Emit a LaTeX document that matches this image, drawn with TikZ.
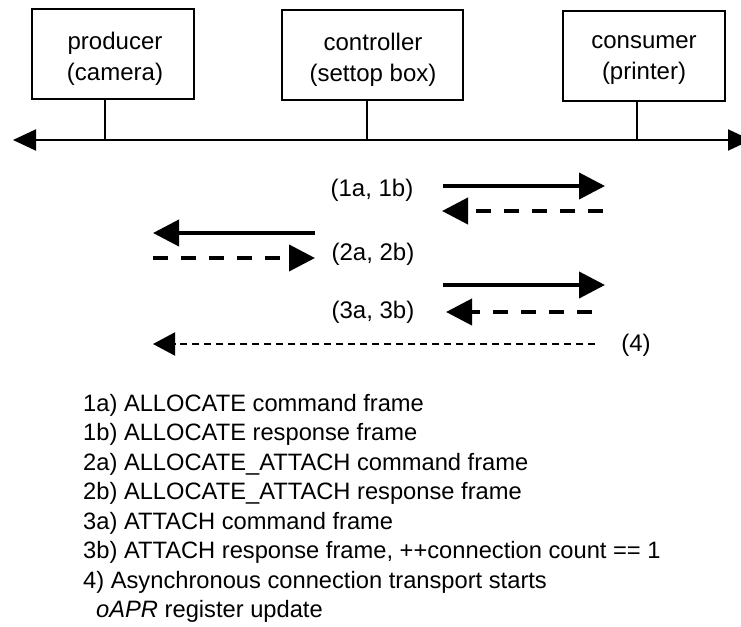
\documentclass[tikz,border=0pt]{standalone}
\usepackage{fontspec}
\setmainfont{Liberation Sans}
\usetikzlibrary{arrows.meta}
\begin{document}
\begin{tikzpicture}[x=1pt,y=-1pt,
  box/.style={draw, line width=1.5pt, minimum width=#1, minimum height=90pt, inner sep=0pt},
  devtext/.style={align=center, inner sep=0pt, font=\fontsize{24}{31}\selectfont},
  tick/.style={line width=1.8pt},
  bus/.style={line width=2pt, {Triangle[length=23pt,width=21pt]}-{Triangle[length=23pt,width=21pt]}},
  cmd/.style={line width=4pt, -{Triangle[length=26pt,width=26pt]}},
  rsp/.style={cmd, dash pattern=on 15pt off 13pt},
  async/.style={line width=2pt, dash pattern=on 7pt off 5pt, -{Triangle[length=22pt,width=23pt]}},
  lbl/.style={font=\fontsize{24}{28}\selectfont, inner sep=0pt},
  legend/.style={anchor=base west, inner sep=0pt, font=\fontsize{23.7}{28}\selectfont}]

\useasboundingbox (0,0) rectangle (741,626);

% devices on the bus
\node[box=162pt] (prod) at (113,54) {};
\node[box=181pt] (ctrl) at (372.5,55) {};
\node[box=162pt] (cons) at (644,56) {};
\node[devtext] (prodT) at (115,59) {producer\\(camera)};
\node[devtext] (ctrlT) at (373,60) {controller\\(settop box)};
\node[devtext] (consT) at (644,60) {consumer\\(printer)};

% the bus and its taps
\coordinate (busL) at (13,140);
\coordinate (busR) at (751,140);
\coordinate (tapP) at (105,140);
\coordinate (tapC) at (367,140);
\coordinate (tapS) at (637,140);
\draw[bus] (busL) -- (busR);
\draw[tick] (prod.south -| tapP) -- (tapP);
\draw[tick] (ctrl.south -| tapC) -- (tapC);
\draw[tick] (cons.south -| tapS) -- (tapS);

% transaction arrows
\coordinate (m1a) at (443,186);  \coordinate (m1aE) at (605,186);
\coordinate (m1b) at (603,211);  \coordinate (m1bE) at (442,211);
\coordinate (m2a) at (315,233);  \coordinate (m2aE) at (153,233);
\coordinate (m2b) at (153,258);  \coordinate (m2bE) at (315,258);
\coordinate (m3a) at (443,285);  \coordinate (m3aE) at (605,285);
\coordinate (m3b) at (592,312);  \coordinate (m3bE) at (446,312);
\coordinate (m4)  at (595,344);  \coordinate (m4E)  at (153,344);

\draw[cmd] (m1a) -- (m1aE);
\draw[rsp] (m1b) -- (m1bE);
\draw[cmd] (m2a) -- (m2aE);
\draw[rsp] (m2b) -- (m2bE);
\draw[cmd] (m3a) -- (m3aE);
\draw[rsp] (m3b) -- (m3bE);
\draw[async] (m4) -- (m4E);

\node[lbl] (t1) at (372,190) {(1a, 1b)};
\node[lbl] (t2) at (373,254) {(2a, 2b)};
\node[lbl] (t3) at (373,312) {(3a, 3b)};
\node[lbl] (t4) at (636,345) {(4)};

% legend
\node[legend] (k1a) at (83,411) {1a) ALLOCATE command frame};
\node[legend] (k1b) at (83,440.5) {1b) ALLOCATE response frame};
\node[legend] (k2a) at (83,470) {2a) ALLOCATE\_ATTACH command frame};
\node[legend] (k2b) at (83,499.5) {2b) ALLOCATE\_ATTACH response frame};
\node[legend] (k3a) at (83,529) {3a) ATTACH command frame};
\node[legend] (k3b) at (83,558.5) {3b) ATTACH response frame, ++connection count == 1};
\node[legend] (k4)  at (83,588) {4) Asynchronous connection transport starts};
\node[legend] (k4b) at (96,617.5) {\textit{oAPR} register update};
\end{tikzpicture}
\end{document}
